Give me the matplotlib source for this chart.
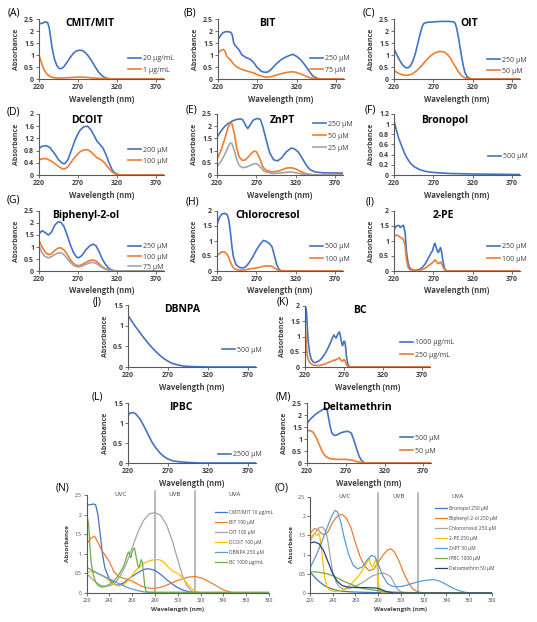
import matplotlib
matplotlib.use("Agg")
import matplotlib.pyplot as plt

plt.rcParams['font.family'] = ['Open Sans', 'DejaVu Sans']

BLUE = '#4472C4'; ORANGE = '#ED7D31'; GRAY = '#A5A5A5'; YELLOW = '#FFC000'
LBLUE = '#5B9BD5'; GREEN = '#70AD47'; DBLUE = '#264478'

# ---------------- data ----------------
# (A) CMIT/MIT
A_wl_20 = [220,224,228,231,233,235,237,240,243,246,249,252,256,260,264,268,272,276,280,284,288,292,296,300,304,308,312,320,380]
A_ab_20 = [2.3,2.32,2.38,2.35,2.15,1.7,1.25,0.8,0.55,0.43,0.44,0.52,0.7,0.9,1.07,1.17,1.2,1.18,1.08,0.92,0.72,0.5,0.3,0.15,0.06,0.02,0.01,0,0]
A_wl_1 = [220,222,224,226,228,231,235,240,250,260,270,280,290,300,310,320,380]
A_ab_1 = [1.0,0.8,0.6,0.42,0.3,0.18,0.09,0.05,0.04,0.06,0.08,0.07,0.04,0.02,0.01,0,0]
# (B) BIT
B_wl_250 = [220,223,226,229,233,236,238,240,242,244,247,250,255,260,265,270,275,279,283,287,291,295,300,305,310,315,320,325,330,335,340,345,350,380]
B_ab_250 = [1.65,1.8,1.92,1.97,1.97,1.95,1.85,1.5,1.38,1.32,1.2,1.02,0.9,0.84,0.7,0.47,0.32,0.28,0.29,0.38,0.53,0.66,0.8,0.9,0.97,1.03,0.94,0.8,0.6,0.36,0.14,0.04,0,0]
B_wl_75 = [220,224,227,229,231,234,236,239,242,245,250,255,260,265,270,275,280,285,290,295,300,305,310,315,320,325,330,335,340,345,350,380]
B_ab_75 = [1.1,1.2,1.23,1.15,0.95,0.85,0.8,0.65,0.55,0.48,0.4,0.35,0.3,0.26,0.18,0.12,0.08,0.08,0.12,0.17,0.22,0.26,0.29,0.3,0.27,0.21,0.14,0.07,0.03,0.01,0,0]
# (C) OIT
C_wl_250 = [220,223,226,229,232,235,238,241,244,247,250,253,256,258,262,270,280,290,296,298,300,302,304,306,308,310,313,317,320,380]
C_ab_250 = [1.25,1.05,0.85,0.68,0.55,0.47,0.47,0.55,0.75,1.05,1.45,1.85,2.2,2.32,2.36,2.38,2.4,2.4,2.38,2.3,2.05,1.7,1.3,0.9,0.55,0.28,0.08,0.02,0,0]
C_wl_50 = [220,225,230,235,240,245,250,255,260,265,270,275,279,284,288,292,296,300,304,308,312,316,320,380]
C_ab_50 = [0.35,0.25,0.18,0.15,0.17,0.25,0.38,0.55,0.75,0.92,1.05,1.13,1.15,1.12,1.02,0.85,0.62,0.4,0.2,0.08,0.02,0.01,0,0]
# (D) DCOIT
D_wl = [220,224,229,234,240,245,250,253,257,262,267,272,277,282,286,290,294,298,302,306,310,314,318,322,326,380]
D_ab_200 = [0.88,0.94,0.96,0.9,0.7,0.5,0.38,0.37,0.5,0.85,1.2,1.45,1.58,1.6,1.5,1.32,1.12,1.0,0.88,0.65,0.38,0.15,0.05,0.01,0,0]
D_ab_100 = [0.5,0.53,0.54,0.48,0.38,0.28,0.2,0.2,0.27,0.45,0.62,0.75,0.82,0.83,0.77,0.67,0.57,0.52,0.45,0.33,0.2,0.09,0.03,0.01,0,0]
# (E) ZnPT
E_wl_250 = [220,225,230,235,240,245,250,253,256,259,262,266,271,275,278,282,287,292,297,302,308,314,318,323,328,333,338,345,355,380]
E_ab_250 = [1.55,1.8,2.0,2.13,2.22,2.28,2.3,2.25,2.05,1.9,2.05,2.25,2.32,2.28,2.0,1.5,0.9,0.62,0.58,0.7,0.95,1.1,1.08,0.95,0.7,0.42,0.22,0.12,0.09,0.08]
E_wl_50 = [220,225,230,234,237,239,242,245,248,252,256,260,264,267,270,274,278,282,290,300,308,314,320,326,332,340,350,380]
E_ab_50 = [0.65,1.0,1.5,1.95,2.15,2.1,1.7,1.1,0.75,0.6,0.62,0.75,0.9,0.98,0.95,0.7,0.35,0.2,0.12,0.18,0.28,0.3,0.25,0.15,0.06,0.02,0,0]
E_wl_25 = [220,225,230,234,237,239,242,245,248,252,258,264,268,271,275,280,290,300,310,315,322,330,340,380]
E_ab_25 = [0.35,0.55,0.85,1.15,1.32,1.28,1.0,0.65,0.4,0.3,0.33,0.42,0.47,0.45,0.33,0.15,0.06,0.08,0.12,0.12,0.08,0.03,0,0]
# (F) Bronopol
F_wl = [220,223,226,229,233,237,241,246,252,260,270,290,320,380]
F_ab_500 = [1.07,0.88,0.72,0.6,0.44,0.32,0.23,0.16,0.11,0.07,0.05,0.03,0.02,0.01]
# (G) Biphenyl-2-ol
G_wl = [220,224,228,232,236,240,244,248,252,256,260,264,268,271,275,280,285,289,293,297,301,305,309,313,317,320,380]
G_ab_250 = [1.55,1.68,1.6,1.5,1.62,1.9,2.04,2.03,1.85,1.5,1.1,0.78,0.58,0.55,0.65,0.88,1.05,1.12,1.05,0.8,0.5,0.28,0.12,0.04,0.01,0,0]
G_ab_100 = [1.28,1.0,0.78,0.68,0.72,0.85,0.95,0.97,0.88,0.7,0.48,0.32,0.24,0.22,0.27,0.36,0.44,0.46,0.42,0.3,0.18,0.1,0.05,0.02,0,0,0]
G_ab_75 = [1.05,0.75,0.6,0.55,0.6,0.68,0.75,0.76,0.68,0.52,0.36,0.24,0.18,0.17,0.2,0.28,0.34,0.36,0.32,0.23,0.14,0.07,0.03,0.01,0,0,0]
# (H) Chlorocresol
H_wl = [220,223,226,230,233,235,237,239,241,244,248,252,256,260,265,270,275,279,283,287,290,293,296,299,302,380]
H_ab_500 = [1.55,1.78,1.9,1.92,1.88,1.7,1.3,0.8,0.45,0.22,0.12,0.1,0.13,0.25,0.45,0.7,0.9,1.02,0.98,0.9,0.8,0.5,0.2,0.05,0,0]
H_ab_100 = [0.5,0.58,0.64,0.63,0.55,0.45,0.3,0.18,0.1,0.05,0.03,0.03,0.04,0.06,0.08,0.1,0.13,0.16,0.17,0.17,0.15,0.1,0.05,0.01,0,0]
# (I) 2-PE
I_wl = [220,223,226,228,230,232,234,236,238,240,244,248,252,256,260,264,267,269,271,272,274,276,277,279,280,282,284,286,288,380]
I_ab_250 = [1.38,1.5,1.52,1.45,1.5,1.52,1.3,0.6,0.25,0.1,0.03,0.02,0.05,0.12,0.25,0.45,0.6,0.68,0.88,0.92,0.75,0.62,0.65,0.78,0.7,0.35,0.1,0.02,0,0]
I_ab_100 = [1.15,1.2,1.17,1.12,1.1,1.05,0.85,0.35,0.12,0.05,0.02,0.02,0.02,0.05,0.1,0.18,0.24,0.28,0.35,0.37,0.3,0.25,0.25,0.3,0.27,0.15,0.05,0.01,0,0]
# (J) DBNPA
J_wl = [220,225,230,235,240,245,250,255,260,265,270,275,280,290,300,320,380]
J_ab_500 = [1.25,1.1,0.96,0.83,0.7,0.58,0.47,0.37,0.28,0.2,0.14,0.09,0.06,0.02,0.01,0,0]
# (K) BC
K_wl = [220,221,222,223,224,226,228,231,234,238,242,246,250,253,255,257,258,260,262,264,265,267,268,270,271,272,273,275,277,280,380]
K_ab_1000 = [1.9,1.95,1.8,1.3,0.85,0.45,0.25,0.15,0.15,0.2,0.3,0.45,0.65,0.82,0.95,1.05,1.0,0.95,1.08,1.15,1.05,0.78,0.7,0.85,0.82,0.65,0.35,0.08,0.01,0,0]
K_ab_250 = [1.4,1.1,0.6,0.35,0.25,0.15,0.1,0.06,0.05,0.05,0.07,0.1,0.15,0.18,0.2,0.23,0.22,0.24,0.27,0.3,0.26,0.2,0.19,0.25,0.22,0.15,0.08,0.02,0,0,0]
# (L) IPBC
L_wl = [220,223,227,230,235,240,245,250,255,260,265,270,275,280,290,300,310,380]
L_ab_2500 = [1.2,1.25,1.26,1.22,1.1,0.92,0.72,0.52,0.37,0.25,0.16,0.1,0.06,0.04,0.02,0.01,0,0]
# (M) Deltamethrin
M_wl_500 = [220,225,230,235,240,244,246,248,250,252,255,259,263,268,273,277,280,284,287,290,293,296,380]
M_ab_500 = [1.65,1.85,2.0,2.12,2.22,2.3,2.2,1.85,1.5,1.25,1.15,1.17,1.25,1.3,1.32,1.25,1.0,0.6,0.3,0.12,0.03,0,0]
M_wl_50 = [220,224,228,232,236,240,244,248,252,260,270,278,284,290,295,380]
M_ab_50 = [1.35,1.35,1.28,1.05,0.75,0.45,0.28,0.2,0.17,0.15,0.15,0.12,0.06,0.02,0,0]
# (N) overlay 1
N_wl_cmit = [220,223,226,228,230,232,234,236,240,245,248,252,258,264,270,274,280,286,292,298,304,310,316,320,380]
N_ab_cmit = [2.25,2.25,2.27,2.25,2.0,1.5,1.0,0.65,0.35,0.22,0.2,0.25,0.38,0.5,0.6,0.62,0.58,0.45,0.3,0.17,0.08,0.03,0.01,0,0]
N_wl_bit = [220,224,227,230,233,236,240,244,248,252,256,260,264,268,272,276,280,286,292,298,304,310,316,322,328,334,340,346,352,380]
N_ab_bit = [1.25,1.4,1.45,1.3,1.1,0.98,0.8,0.55,0.42,0.38,0.35,0.3,0.24,0.18,0.14,0.12,0.12,0.15,0.22,0.3,0.36,0.41,0.42,0.37,0.28,0.18,0.08,0.02,0,0]
N_wl_oit = [220,224,228,232,236,240,245,250,255,260,265,270,275,280,285,290,295,300,304,308,312,316,320,380]
N_ab_oit = [0.5,0.38,0.28,0.2,0.17,0.18,0.25,0.45,0.75,1.15,1.55,1.85,2.02,2.05,1.98,1.75,1.35,0.85,0.45,0.18,0.05,0.01,0,0]
N_wl_dcoit = [220,224,228,232,236,240,244,248,252,256,260,264,270,276,280,284,288,292,296,300,304,308,312,316,320,324,380]
N_ab_dcoit = [0.52,0.55,0.52,0.47,0.4,0.3,0.22,0.18,0.2,0.3,0.45,0.6,0.75,0.83,0.85,0.85,0.78,0.65,0.55,0.5,0.4,0.25,0.12,0.04,0.01,0,0]
N_wl_dbnpa = [220,225,230,235,240,245,250,255,260,265,270,275,280,290,380]
N_ab_dbnpa = [0.65,0.58,0.5,0.43,0.36,0.29,0.22,0.15,0.1,0.06,0.03,0.015,0.01,0,0]
N_wl_bc = [220,221,222,223,224,226,228,230,233,236,240,244,248,252,254,256,257,258,259,260,261,262,263,264,265,266,267,268,269,270,271,272,274,276,380]
N_ab_bc = [1.6,1.9,1.7,1.2,0.8,0.45,0.28,0.2,0.15,0.16,0.22,0.3,0.45,0.65,0.8,1.0,1.05,0.95,0.9,1.05,1.12,1.15,1.0,0.85,0.7,0.65,0.75,0.85,0.78,0.5,0.2,0.05,0.02,0.02,0.02]
# (O) overlay 2
O_wl_bron = [220,223,226,230,234,238,242,248,255,265,280,300,380]
O_ab_bron = [0.55,0.45,0.35,0.25,0.17,0.12,0.08,0.05,0.03,0.02,0.01,0,0]
O_wl_biph = [220,224,227,230,233,236,240,244,248,252,256,260,264,268,272,276,280,284,288,291,294,298,302,306,310,314,318,322,380]
O_ab_biph = [1.55,1.68,1.65,1.55,1.52,1.6,1.85,2.0,2.05,1.95,1.7,1.3,0.95,0.7,0.58,0.62,0.8,0.98,1.12,1.15,1.08,0.85,0.55,0.3,0.12,0.04,0.01,0,0]
O_wl_chlo = [220,224,228,231,234,236,238,240,243,246,250,255,260,265,270,275,280,284,288,291,294,297,300,303,380]
O_ab_chlo = [1.35,1.55,1.7,1.72,1.6,1.3,0.9,0.55,0.28,0.15,0.1,0.12,0.18,0.25,0.35,0.45,0.5,0.52,0.48,0.42,0.25,0.1,0.03,0,0]
O_wl_2pe = [220,222,224,226,228,229,231,233,235,238,242,246,250,255,260,264,268,270,272,273,275,277,278,279,280,281,283,285,380]
O_ab_2pe = [1.35,1.5,1.55,1.5,1.55,1.4,0.9,0.4,0.15,0.06,0.04,0.05,0.1,0.2,0.35,0.5,0.68,0.8,0.9,0.75,0.68,0.8,0.9,0.7,0.35,0.1,0.02,0,0]
O_wl_znpt = [220,225,230,235,239,242,244,247,250,254,258,262,266,270,274,277,280,284,288,292,296,300,305,310,316,322,328,333,338,344,350,356,362,380]
O_ab_znpt = [0.65,0.95,1.3,1.7,2.0,2.15,2.12,1.85,1.45,1.0,0.72,0.63,0.68,0.85,0.98,0.95,0.75,0.45,0.25,0.18,0.16,0.17,0.2,0.25,0.3,0.33,0.35,0.32,0.25,0.15,0.07,0.02,0,0]
O_wl_ipbc = [220,225,230,235,240,245,250,255,260,265,270,275,280,285,290,300,310,320,380]
O_ab_ipbc = [0.55,0.55,0.53,0.5,0.45,0.38,0.3,0.24,0.18,0.13,0.1,0.08,0.06,0.04,0.03,0.02,0.01,0,0]
O_wl_delta = [220,224,228,232,236,240,244,248,252,260,270,278,282,286,290,294,380]
O_ab_delta = [1.3,1.33,1.28,1.1,0.8,0.5,0.3,0.2,0.16,0.14,0.14,0.13,0.1,0.05,0.02,0,0]

UV_BOUNDS = [280, 315]
UV_NAMES = ['UVC', 'UVB', 'UVA']
UV_TEXT_X = [250, 297.5, 350]

# ---------------- figure ----------------
W, H = 537, 622
fig = plt.figure(figsize=(W / 100, H / 100), dpi=100)
TXT = '#404040'
AXC = '#595959'


def add_ax(l, t, r, b):
    return fig.add_axes([l / W, 1 - b / H, (r - l) / W, (b - t) / H])


def style(ax, xticks, ymax, ystep, fs, bold):
    ax.set_xlim(220, 380)
    ax.set_ylim(0, ymax)
    n = int(round(ymax / ystep))
    yt = [round(i * ystep, 2) for i in range(n + 1)]
    ax.set_yticks(yt)
    ax.set_yticklabels(['%g' % v for v in yt])
    ax.set_xticks(xticks)
    ax.set_xticklabels(['%g' % v for v in xticks])
    for s in ['top', 'right']:
        ax.spines[s].set_visible(False)
    for s in ['left', 'bottom']:
        ax.spines[s].set_color(AXC)
        ax.spines[s].set_linewidth(0.8)
    ax.tick_params(length=2, width=0.6, color=AXC, labelsize=fs, labelcolor=TXT, pad=1.5)
    for lab in ax.get_xticklabels() + ax.get_yticklabels():
        lab.set_fontweight('bold' if bold else 'normal')
    ax.patch.set_alpha(0)


def legend(ax, lx, ly, fs, ls, hl, htp):
    ax.legend(loc='upper left', bbox_to_anchor=(lx / W, 1 - (ly - fs * 0.7) / H),
              bbox_transform=fig.transFigure, frameon=False, fontsize=fs,
              handlelength=hl, handletextpad=htp, labelspacing=ls,
              borderpad=0, borderaxespad=0, labelcolor=TXT)


def panel(box, ymax, ystep, series, title, tx, ty, letter, letxy, legxy, ls=0.6, xlpad=3):
    ax = add_ax(*box)
    for wl, ab, col, lab in series:
        ax.plot(wl, ab, color=col, lw=1.2, label=lab, solid_joinstyle='round')
    style(ax, [220, 270, 320, 370], ymax, ystep, 5, True)
    ax.set_xlabel('Wavelength (nm)', fontsize=5.5, fontweight='bold', color=TXT, labelpad=xlpad)
    ax.set_ylabel('Absorbance', fontsize=5, fontweight='bold', color=TXT, labelpad=3)
    ax.text(tx, ty, title, transform=ax.transAxes, ha='center', va='center',
            fontsize=7.5, fontweight='bold', color='black')
    fig.text(letxy[0] / W, 1 - letxy[1] / H, letter, ha='center', va='center',
             fontsize=7.5, color='black')
    legend(ax, legxy[0], legxy[1], 5, ls, 1.9, 0.2)
    return ax


panel((39, 19, 164, 79), 2.5, 0.5,
      [(A_wl_20, A_ab_20, BLUE, '20 µg/mL'), (A_wl_1, A_ab_1, ORANGE, '1 µg/mL')],
      'CMIT/MIT', 0.41, 0.93, '(A)', (14, 13), (128, 59))
panel((218, 19, 344, 79), 2.5, 0.5,
      [(B_wl_250, B_ab_250, BLUE, '250 µM'), (B_wl_75, B_ab_75, ORANGE, '75 µM')],
      'BIT', 0.39, 0.93, '(B)', (190, 13), (310, 59))
panel((394, 19, 520, 79), 2.5, 0.5,
      [(C_wl_250, C_ab_250, BLUE, '250 µM'), (C_wl_50, C_ab_50, ORANGE, '50 µM')],
      'OIT', 0.6, 0.93, '(C)', (369, 13), (487, 60))
panel((39, 114, 164, 175), 2.0, 0.4,
      [(D_wl, D_ab_200, BLUE, '200 µM'), (D_wl, D_ab_100, ORANGE, '100 µM')],
      'DCOIT', 0.38, 0.9, '(D)', (13, 112), (128, 150))
panel((217, 114, 343, 175), 2.5, 0.5,
      [(E_wl_250, E_ab_250, BLUE, '250 µM'), (E_wl_50, E_ab_50, ORANGE, '50 µM'),
       (E_wl_25, E_ab_25, GRAY, '25 µM')],
      'ZnPT', 0.52, 0.9, '(E)', (192, 110), (313, 124), ls=0.75)
panel((394, 114, 520, 175), 1.2, 0.2,
      [(F_wl, F_ab_500, BLUE, '500 µM')],
      'Bronopol', 0.4, 0.9, '(F)', (370, 110), (488, 157))
panel((39, 211, 164, 271), 2.5, 0.5,
      [(G_wl, G_ab_250, BLUE, '250 µM'), (G_wl, G_ab_100, ORANGE, '100 µM'),
       (G_wl, G_ab_75, GRAY, '75 µM')],
      'Biphenyl-2-ol', 0.37, 0.93, '(G)', (13, 200), (128, 247), ls=0.45, xlpad=2)
panel((217, 211, 343, 271), 2.0, 0.5,
      [(H_wl, H_ab_500, BLUE, '500 µM'), (H_wl, H_ab_100, ORANGE, '100 µM')],
      'Chlorocresol', 0.4, 0.93, '(H)', (192, 202), (310, 247), ls=0.75, xlpad=2)
panel((394, 211, 520, 271), 2.0, 0.5,
      [(I_wl, I_ab_250, BLUE, '250 µM'), (I_wl, I_ab_100, ORANGE, '100 µM')],
      '2-PE', 0.39, 0.93, '(I)', (370, 202), (487, 247), ls=0.75, xlpad=2)
panel((128, 305, 256, 367), 1.5, 0.5,
      [(J_wl, J_ab_500, BLUE, '500 µM')],
      'DBNPA', 0.42, 0.92, '(J)', (97, 302), (222, 350))
panel((305, 306, 430, 367), 2.0, 0.5,
      [(K_wl, K_ab_1000, BLUE, '1000 µg/mL'), (K_wl, K_ab_250, ORANGE, '250 µg/mL')],
      'BC', 0.44, 0.92, '(K)', (283, 302), (400, 343), ls=0.75)
panel((128, 403, 256, 463), 1.5, 0.5,
      [(L_wl, L_ab_2500, BLUE, '2500 µM')],
      'IPBC', 0.41, 0.92, '(L)', (97, 397), (218, 455))
panel((307, 403, 431, 463), 2.5, 0.5,
      [(M_wl_500, M_ab_500, BLUE, '500 µM'), (M_wl_50, M_ab_50, ORANGE, '50 µM')],
      'Deltamethrin', 0.4, 0.92, '(M)', (283, 397), (400, 438), ls=0.9)


def overlay(box, series, letter, letxy, legxy):
    ax = add_ax(*box)
    for wl, ab, col, lab in series:
        ax.plot(wl, ab, color=col, lw=0.9, label=lab)
    style(ax, list(range(220, 381, 20)), 2.5, 0.5, 3.5, False)
    for b in UV_BOUNDS:
        ax.axvline(b, ymin=0, ymax=1.04, color='#A6A6A6', lw=1.1, clip_on=False, zorder=0)
    for name, x in zip(UV_NAMES, UV_TEXT_X):
        ax.text(x, 2.5, name, ha='center', va='center', fontsize=4.5, color=TXT)
    ax.set_xlabel('Wavelength (nm)', fontsize=4.5, fontweight='bold', color=TXT, labelpad=3)
    ax.set_ylabel('Absorbance', fontsize=4.5, fontweight='bold', color=TXT, labelpad=3)
    fig.text(letxy[0] / W, 1 - letxy[1] / H, letter, ha='center', va='center',
             fontsize=7.5, color='black')
    legend(ax, legxy[0], legxy[1], 3.5, 1.05, 2.4, 0.4)


overlay((86.5, 495, 269, 593),
        [(N_wl_cmit, N_ab_cmit, BLUE, 'CMIT/MIT 10 µg/mL'), (N_wl_bit, N_ab_bit, ORANGE, 'BIT 100 µM'),
         (N_wl_oit, N_ab_oit, GRAY, 'OIT 100 µM'), (N_wl_dcoit, N_ab_dcoit, YELLOW, 'DCOIT 100 µM'),
         (N_wl_dbnpa, N_ab_dbnpa, LBLUE, 'DBNPA 250 µM'), (N_wl_bc, N_ab_bc, GREEN, 'BC 1000 µg/mL')],
        '(N)', (62, 488), (215, 512))
overlay((310, 497, 492, 593),
        [(O_wl_bron, O_ab_bron, BLUE, 'Bronopol 250 µM'), (O_wl_biph, O_ab_biph, ORANGE, 'Biphenyl-2-ol 250 µM'),
         (O_wl_chlo, O_ab_chlo, GRAY, 'Chlorocresol 250 µM'), (O_wl_2pe, O_ab_2pe, YELLOW, '2-PE 250 µM'),
         (O_wl_znpt, O_ab_znpt, LBLUE, 'ZnPT 50 µM'), (O_wl_ipbc, O_ab_ipbc, GREEN, 'IPBC 1000 µM'),
         (O_wl_delta, O_ab_delta, DBLUE, 'Deltamethrin 50 µM')],
        '(O)', (282, 488), (435, 508))

fig.savefig('out.png', dpi=100)
